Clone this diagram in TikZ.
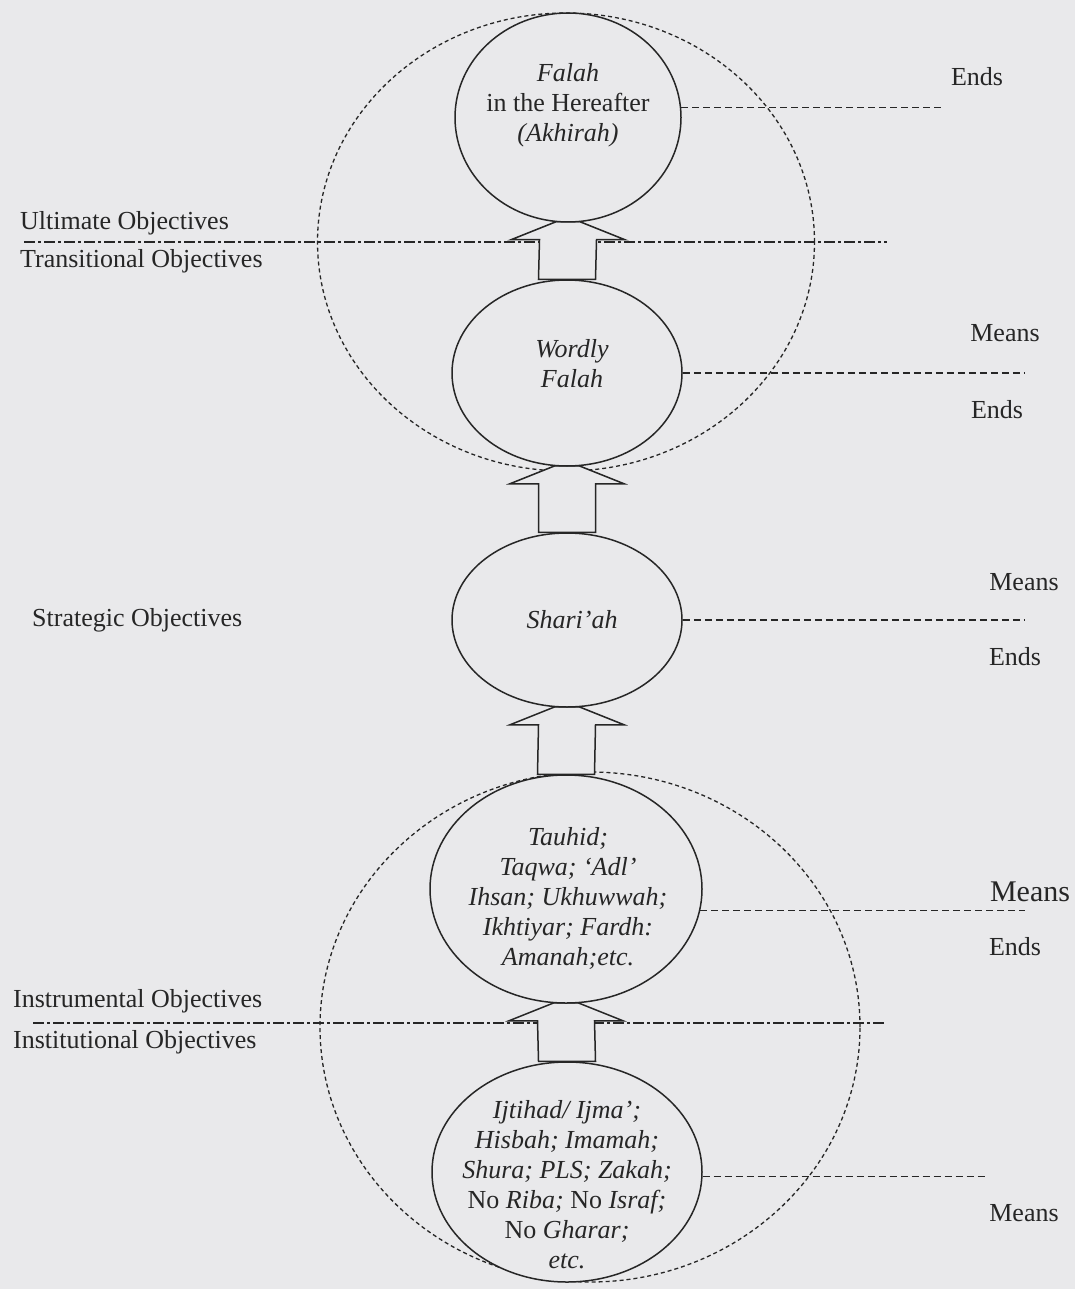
\documentclass[tikz,border=0pt]{standalone}
\usepackage{fontspec}
\setmainfont{Liberation Serif}
\usetikzlibrary{shapes.geometric,calc}
\definecolor{bg}{RGB}{233,233,235}
\definecolor{ink}{RGB}{38,38,38}
\pgfdeclarelayer{bottom}
\pgfdeclarelayer{mid}
\pgfsetlayers{bottom,mid,main}
\begin{document}
\begin{tikzpicture}[x=1pt,y=-1pt,
  txt/.style={font=\fontsize{26}{30}\selectfont, text=ink, inner sep=0pt, align=center},
  lbl/.style={txt, anchor=west},
  rlbl/.style={txt},
  oval/.style={ellipse, draw=ink, line width=1.5pt, fill=bg, inner sep=0pt},
  bigoval/.style={ellipse, draw=ink, line width=1.3pt, dash pattern=on 4pt off 3pt, inner sep=0pt},
  divider/.style={draw=ink, line width=1.5pt, dash pattern=on 11pt off 3pt on 3pt off 3pt},
  leader/.style={draw=ink, line width=1.5pt, dash pattern=on 7pt off 4pt},
  blockarrow/.style={draw=ink, line width=1.5pt, fill=bg, line join=miter},
]
\begin{pgfonlayer}{bottom}
\useasboundingbox[fill=bg] (0,0) rectangle (1075,1289);
% dividers
\coordinate (uL) at (24,242);
\coordinate (uR) at (887,242);
\coordinate (iL) at (33,1023);
\coordinate (iR) at (887,1023);
\draw[divider] (uL) -- (uR);
\draw[divider] (iL) -- (iR);
% big dashed ellipses
\node[bigoval, minimum width=497pt, minimum height=458pt] (bigU) at (566,242) {};
\node[bigoval, minimum width=540pt, minimum height=510pt] (bigL) at (590,1027) {};
\end{pgfonlayer}

% small ellipses
\node[oval, minimum width=226pt, minimum height=209pt] (falah) at (568,117.5) {};
\node[oval, minimum width=230pt, minimum height=186pt] (wordly) at (567,373) {};
\node[oval, minimum width=230pt, minimum height=174pt] (shariah) at (567,620) {};
\node[oval, minimum width=272pt, minimum height=228pt] (tauhid) at (566,889) {};
\node[oval, minimum width=270pt, minimum height=220pt] (ijtihad) at (567,1172) {};

% block arrows
\begin{pgfonlayer}{mid}
\foreach \lo/\up in {wordly/falah, shariah/wordly, tauhid/shariah, ijtihad/tauhid}{
  \draw[blockarrow] ($(\lo.north)+(-28.5,0)$) -- ($(\up.south)+(-28.5,17)$)
    -- ($(\up.south)+(-57,17)$) -- ($(\up.south)+(-12,-1)$) -- ($(\up.south)+(12,-1)$)
    -- ($(\up.south)+(57,17)$) -- ($(\up.south)+(28.5,17)$) -- ($(\lo.north)+(28.5,0)$) -- cycle;
}
\end{pgfonlayer}

% texts inside ellipses
\node[txt] (tFalah) at (568,105) {\textit{Falah}\\in the Hereafter\\\textit{(Akhirah)}};
\node[txt] (tWordly) at (572,364) {\textit{Wordly}\\\textit{Falah}};
\node[txt] (tShariah) at (572,620) {\textit{Shari’ah}};
\node[txt] (tTauhid) at (568,898) {\textit{Tauhid;}\\\textit{Taqwa; ‘Adl’}\\\textit{Ihsan; Ukhuwwah;}\\\textit{Ikhtiyar; Fardh:}\\\textit{Amanah;etc.}};
\node[txt] (tIjtihad) at (567,1185) {\textit{Ijtihad/ Ijma’;}\\\textit{Hisbah; Imamah;}\\\textit{Shura; PLS; Zakah;}\\No \textit{Riba;} No \textit{Israf;}\\No \textit{Gharar;}\\\textit{etc.}};

% leaders
\coordinate (eFalah) at (943,108);
\coordinate (eWordly) at (1025,373);
\coordinate (eShariah) at (1025,620);
\coordinate (eTauhid) at (1025,910);
\coordinate (eIjtihad) at (988,1177);
\draw[leader] (falah.5) -- (falah.5 -| eFalah);
\draw[leader] (wordly.east) -- (wordly.east -| eWordly);
\draw[leader] (shariah.east) -- (shariah.east -| eShariah);
\draw[leader] (tauhid.-9) -- (tauhid.-9 -| eTauhid);
\draw[leader] (ijtihad.-2) -- (ijtihad.-2 -| eIjtihad);

% right labels
\node[rlbl] (r1) at (977,77) {Ends};
\node[rlbl] (r2) at (1005,333) {Means};
\node[rlbl] (r3) at (997,410) {Ends};
\node[rlbl] (r4) at (1024,582) {Means};
\node[rlbl] (r5) at (1015,657) {Ends};
\node[rlbl, font=\fontsize{30}{32}\selectfont] (r6) at (1030,892) {Means};
\node[rlbl] (r7) at (1015,947) {Ends};
\node[rlbl] (r8) at (1024,1213) {Means};

% left labels
\node[lbl] (l1) at (20,223) {Ultimate Objectives};
\node[lbl] (l2) at (20,261) {Transitional Objectives};
\node[lbl] (l3) at (32,620) {Strategic Objectives};
\node[lbl] (l4) at (13,1001) {Instrumental Objectives};
\node[lbl] (l5) at (13,1042) {Institutional Objectives};
\end{tikzpicture}
\end{document}
